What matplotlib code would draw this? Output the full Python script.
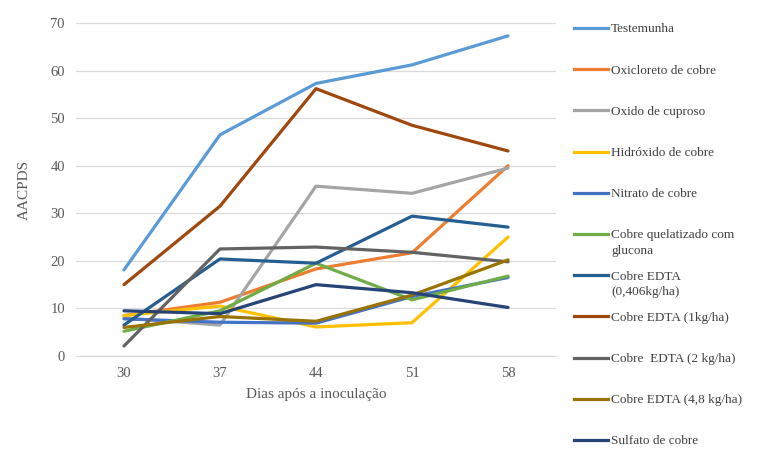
import matplotlib.pyplot as plt
from matplotlib.lines import Line2D

# days after inoculation
days = ['30', '37', '44', '51', '58']

testemunha = [18.1, 46.5, 57.3, 61.2, 67.3]
oxicloreto = [8.5, 11.3, 18.3, 21.7, 40.0]
oxido_cuproso = [8.0, 6.5, 35.7, 34.2, 39.5]
hidroxido = [8.5, 10.5, 6.1, 7.0, 25.0]
nitrato = [7.8, 7.1, 6.9, 12.5, 16.5]
quelatizado = [5.2, 9.5, 19.5, 11.8, 16.8]
edta_0406 = [6.5, 20.4, 19.5, 29.4, 27.1]
edta_1 = [15.0, 31.5, 56.2, 48.5, 43.1]
edta_2 = [2.1, 22.5, 22.9, 21.8, 19.8]
edta_48 = [6.0, 8.3, 7.3, 12.8, 20.2]
sulfato = [9.5, 8.9, 15.0, 13.3, 10.2]

labels = ['Testemunha', 'Oxicloreto de cobre', 'Oxido de cuproso',
          'Hidróxido de cobre', 'Nitrato de cobre',
          'Cobre quelatizado com\nglucona', 'Cobre EDTA\n(0,406kg/ha)',
          'Cobre EDTA (1kg/ha)', 'Cobre  EDTA (2 kg/ha)',
          'Cobre EDTA (4,8 kg/ha)', 'Sulfato de cobre']
series = [testemunha, oxicloreto, oxido_cuproso, hidroxido, nitrato,
          quelatizado, edta_0406, edta_1, edta_2, edta_48, sulfato]
colors = ['#5B9BD5', '#ED7D31', '#A5A5A5', '#FFC000', '#4472C4',
          '#70AD47', '#255E91', '#9E480E', '#636363', '#997300', '#264478']

plt.rcParams['font.family'] = ['Liberation Serif', 'DejaVu Serif']

fig = plt.figure(figsize=(7.62, 4.67), dpi=100)
ax = fig.add_axes([0.0997, 0.2377, 0.63, 0.713])

x = list(range(len(days)))
for vals, c in zip(series, colors):
    ax.plot(x, vals, color=c, linewidth=2.3, solid_joinstyle='round', solid_capstyle='round')

ax.set_xlim(-0.5, len(days) - 0.5)
ax.set_ylim(0, 70)
ax.set_yticks(range(0, 71, 10))
ax.set_xticks(x)
ax.set_xticklabels(days)
ax.grid(axis='y', color='#D9D9D9', linewidth=0.9)
ax.set_axisbelow(True)
for s in ['top', 'right', 'left']:
    ax.spines[s].set_visible(False)
ax.spines['bottom'].set_color('#D9D9D9')
ax.tick_params(length=0, labelsize=10.5, labelcolor='#595959', pad=8)
ax.set_xlabel('Dias após a inoculação', fontsize=11, color='#595959', labelpad=6)
ax.set_ylabel('AACPDS', fontsize=11, color='#595959', labelpad=14)

# legend drawn by hand to keep the uniform spacing of the original
W, H = 762, 467
for i, (lab, c) in enumerate(zip(labels, colors)):
    y = 28 + i * 41.2
    fig.add_artist(Line2D([574 / W, 608 / W], [1 - y / H, 1 - y / H],
                          color=c, linewidth=2.3, transform=fig.transFigure))
    fig.text(611 / W, 1 - (y - 4.5) / H, lab, fontsize=9.5, color='#404040',
             va='top', ha='left', linespacing=1.4)

fig.savefig('out.png', dpi=100)
